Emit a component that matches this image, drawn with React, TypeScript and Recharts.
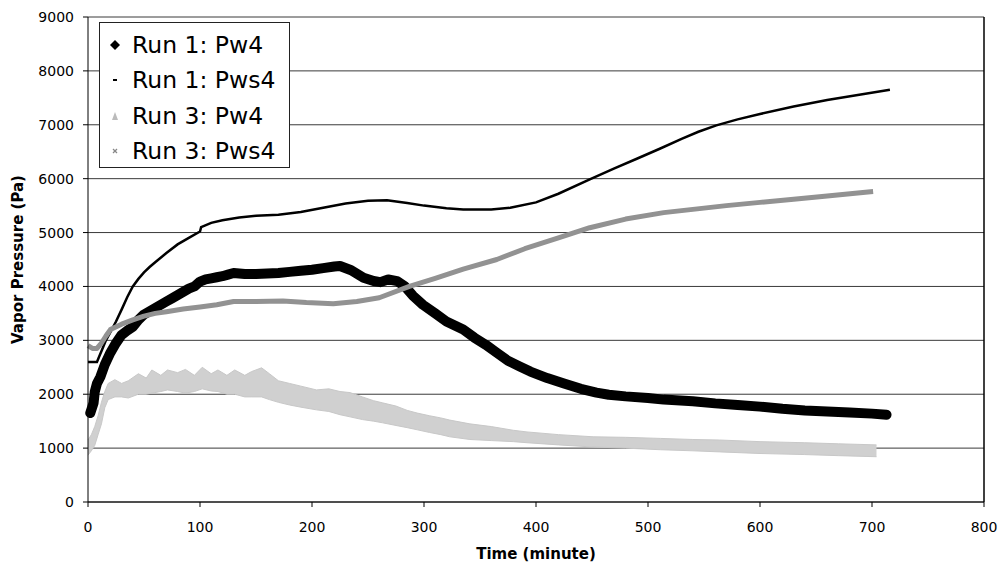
import React from 'react';
import {
  ComposedChart,
  Line,
  Area,
  XAxis,
  YAxis,
  CartesianGrid,
  ReferenceLine,
} from 'recharts';

// values (time in minutes, pressure in Pa)
const run1Pw4Time = [2, 5, 6, 8, 11, 15, 20, 25, 30, 35, 40, 45, 50, 55, 60, 65, 70, 75, 80, 85, 90, 95, 100, 105, 110, 115, 120, 125, 130, 140, 150, 160, 170, 180, 190, 200, 210, 220, 225, 235, 246, 255, 261, 268, 276, 283, 290, 299, 310, 320, 335, 345, 355, 365, 375, 385, 395, 410, 425, 440, 454, 465, 480, 500, 514, 540, 560, 580, 600, 620, 640, 660, 680, 700, 713];
const run1Pw4 = [1650, 1840, 2040, 2200, 2320, 2550, 2770, 2950, 3100, 3180, 3250, 3380, 3480, 3540, 3600, 3660, 3720, 3780, 3840, 3900, 3960, 4000, 4090, 4130, 4150, 4170, 4190, 4220, 4250, 4230, 4230, 4240, 4250, 4270, 4290, 4310, 4340, 4370, 4380, 4300, 4160, 4100, 4080, 4130, 4100, 4000, 3830, 3660, 3500, 3350, 3200, 3050, 2920, 2770, 2620, 2520, 2420, 2300, 2200, 2100, 2030, 1990, 1960, 1930, 1900, 1870, 1830, 1800, 1770, 1730, 1700, 1680, 1660, 1640, 1620];

const run1Pws4Time = [0, 8, 10, 13, 16, 20, 25, 30, 35, 40, 45, 50, 55, 60, 70, 80, 90, 100, 101, 110, 120, 135, 150, 170, 190, 210, 230, 250, 267, 285, 300, 320, 335, 360, 377, 400, 420, 448, 470, 490, 511, 530, 545, 561, 580, 600, 630, 660, 690, 716];
const run1Pws4 = [2600, 2600, 2700, 2850, 3000, 3150, 3350, 3570, 3800, 4000, 4140, 4260, 4360, 4450, 4620, 4780, 4900, 5020, 5100, 5180, 5230, 5280, 5310, 5330, 5380, 5460, 5540, 5590, 5600, 5550, 5500, 5450, 5430, 5430, 5460, 5560, 5720, 5985, 6190, 6370, 6560, 6740, 6870, 6990, 7100, 7200, 7340, 7460, 7560, 7650];

const run3Pw4Time = [0, 3, 6, 9, 12, 15, 18, 24, 30, 36, 45, 52, 57, 65, 71, 80, 87, 95, 102, 110, 116, 124, 131, 140, 146, 155, 162, 170, 180, 190, 204, 215, 225, 234, 245, 255, 263, 275, 285, 294, 305, 315, 323, 341, 360, 380, 392, 420, 451, 480, 511, 540, 564, 600, 640, 670, 704];
const run3Pw4Low = [870, 950, 1050, 1250, 1450, 1750, 1900, 1950, 1950, 1930, 2000, 2000, 2020, 2050, 2080, 2050, 2020, 2050, 2100, 2060, 2050, 2000, 2000, 1950, 1950, 1950, 1900, 1850, 1800, 1760, 1710, 1680, 1620, 1580, 1530, 1500, 1470, 1420, 1380, 1340, 1290, 1250, 1210, 1160, 1140, 1120, 1100, 1060, 1020, 1000, 970, 950, 930, 900, 880, 860, 840];
const run3Pw4High = [1150, 1250, 1400, 1600, 1850, 2050, 2200, 2270, 2200, 2250, 2380, 2300, 2450, 2350, 2450, 2400, 2460, 2350, 2500, 2380, 2450, 2350, 2450, 2350, 2420, 2490, 2380, 2250, 2200, 2150, 2080, 2100, 2050, 2030, 1950, 1880, 1840, 1780, 1700, 1650, 1600, 1560, 1520, 1450, 1400, 1330, 1300, 1250, 1210, 1200, 1180, 1160, 1150, 1120, 1100, 1080, 1060];

const run3Pws4Time = [0, 4, 8, 12, 16, 20, 30, 40, 50, 60, 70, 85, 100, 115, 130, 150, 174, 195, 219, 240, 260, 287, 310, 335, 365, 390, 420, 448, 480, 514, 540, 570, 600, 630, 660, 685, 701];
const run3Pws4 = [2900, 2850, 2850, 2950, 3080, 3200, 3300, 3380, 3450, 3500, 3530, 3580, 3620, 3660, 3720, 3720, 3730, 3700, 3680, 3720, 3790, 4000, 4150, 4320, 4500, 4700, 4900, 5090, 5250, 5370, 5430, 5500, 5560, 5620, 5680, 5730, 5760];

const xTicks = [0, 100, 200, 300, 400, 500, 600, 700, 800];
const yTicks = [0, 1000, 2000, 3000, 4000, 5000, 6000, 7000, 8000, 9000];

const legendItems = [
  { name: 'Run 1: Pw4', marker: 'diamond' },
  { name: 'Run 1: Pws4', marker: 'dash' },
  { name: 'Run 3: Pw4', marker: 'triangle' },
  { name: 'Run 3: Pws4', marker: 'cross' },
];

const pairs = (t: number[], v: number[]) => t.map((x, i) => ({ t: x, v: v[i] }));

const run1Pw4Data = pairs(run1Pw4Time, run1Pw4);
const run1Pws4Data = pairs(run1Pws4Time, run1Pws4);
const run3Pws4Data = pairs(run3Pws4Time, run3Pws4);
const run3Pw4Data = run3Pw4Time.map((x, i) => ({ t: x, band: [run3Pw4Low[i], run3Pw4High[i]] }));

const font = '"DejaVu Sans", sans-serif';

function Marker({ type }: { type: string }) {
  return (
    <svg width={14} height={14} style={{ marginRight: 10, flexShrink: 0 }}>
      {type === 'diamond' && <polygon points="7,2 12,7 7,12 2,7" fill="#000" />}
      {type === 'dash' && <rect x={5} y={6} width={4} height={2} fill="#000" />}
      {type === 'triangle' && <polygon points="7,3 10,11 4,11" fill="#bbb" />}
      {type === 'cross' && (
        <g stroke="#888" strokeWidth={1.2}>
          <line x1={5} y1={5} x2={9} y2={9} />
          <line x1={9} y1={5} x2={5} y2={9} />
        </g>
      )}
    </svg>
  );
}

function LegendBox() {
  return (
    <div
      style={{
        position: 'absolute',
        left: 99,
        top: 22,
        background: '#fff',
        border: '1px solid #222',
        width: 191,
        height: 146,
        boxSizing: 'border-box',
        padding: '4px 0 0 8px',
        fontFamily: font,
        fontSize: 23.5,
        color: '#000',
      }}
    >
      {legendItems.map((item) => (
        <div key={item.name} style={{ display: 'flex', alignItems: 'center', height: 35.5 }}>
          <Marker type={item.marker} />
          <span style={{ whiteSpace: 'nowrap' }}>{item.name}</span>
        </div>
      ))}
    </div>
  );
}

export default function App() {
  return (
    <div style={{ position: 'absolute', left: 0, top: 0, width: 1005, height: 567, background: '#fff' }}>
      <ComposedChart width={1005} height={567} margin={{ top: 17, right: 21, bottom: 0, left: 0 }}>
        <CartesianGrid horizontal vertical={false} stroke="#3a3a3a" strokeWidth={1} />
        <XAxis
          type="number"
          dataKey="t"
          domain={[0, 800]}
          ticks={xTicks}
          height={65}
          tickSize={5}
          tickMargin={15}
          stroke="#000"
          tick={{ fill: '#000', fontSize: 14, fontFamily: font }}
          allowDuplicatedCategory={false}
          label={{
            value: 'Time (minute)',
            position: 'insideBottom',
            offset: 8,
            style: { fontFamily: font, fontSize: 15, fontWeight: 'bold', fill: '#000' },
          }}
        />
        <YAxis
          type="number"
          domain={[0, 9000]}
          ticks={yTicks}
          width={88}
          tickSize={5}
          tickMargin={9}
          stroke="#000"
          tick={{ fill: '#000', fontSize: 14, fontFamily: font }}
          label={{
            value: 'Vapor Pressure (Pa)',
            angle: -90,
            position: 'insideLeft',
            offset: 18,
            style: { textAnchor: 'middle', fontFamily: font, fontSize: 15, fontWeight: 'bold', fill: '#000' },
          }}
        />
        <ReferenceLine x={800} stroke="#000" strokeWidth={1.5} />
        <Line
          data={run1Pw4Data}
          dataKey="v"
          name="Run 1: Pw4"
          stroke="#000"
          strokeWidth={10}
          strokeLinejoin="round"
          strokeLinecap="round"
          dot={false}
          activeDot={false}
          isAnimationActive={false}
        />
        <Line
          data={run1Pws4Data}
          dataKey="v"
          name="Run 1: Pws4"
          stroke="#000"
          strokeWidth={2.5}
          dot={false}
          activeDot={false}
          isAnimationActive={false}
        />
        <Area
          data={run3Pw4Data}
          dataKey="band"
          name="Run 3: Pw4"
          type="linear"
          stroke="#c8c8c8"
          strokeWidth={1}
          fill="#d0d0d0"
          fillOpacity={1}
          dot={false}
          activeDot={false}
          isAnimationActive={false}
        />
        <Line
          data={run3Pws4Data}
          dataKey="v"
          name="Run 3: Pws4"
          stroke="#929292"
          strokeWidth={5}
          strokeLinejoin="round"
          dot={false}
          activeDot={false}
          isAnimationActive={false}
        />
      </ComposedChart>
      <LegendBox />
    </div>
  );
}
